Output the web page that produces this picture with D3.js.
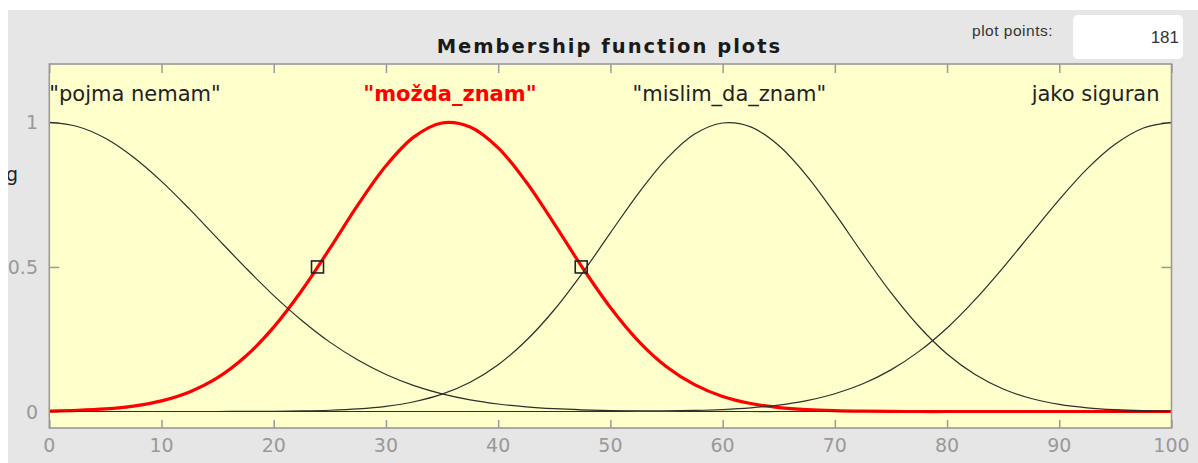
<!DOCTYPE html>
<html>
<head>
<meta charset="utf-8">
<script src="https://cdn.jsdelivr.net/npm/d3@7"></script>
<style>
  html, body { margin: 0; padding: 0; background: #ffffff; }
  svg { display: block; }
</style>
</head>
<body>
<svg id="chart" width="1198" height="463"></svg>
<script>
// ---- data ----
const xValues = [0, 2.5, 5, 7.5, 10, 12.5, 15, 17.5, 20, 22.5, 25, 27.5, 30, 32.5, 35, 37.5, 40, 42.5, 45, 47.5,
                 50, 52.5, 55, 57.5, 60, 62.5, 65, 67.5, 70, 72.5, 75, 77.5, 80, 82.5, 85, 87.5, 90, 92.5, 95, 97.5, 100];
const pojmaNemam = [1, 0.9858, 0.945, 0.8795, 0.796, 0.700, 0.598, 0.497, 0.401, 0.315, 0.240, 0.178, 0.128, 0.0897, 0.061, 0.0404, 0.026, 0.0162, 0.0098, 0.0058,
                    0.0033, 0.0019, 0.0010, 0.0005, 0.0003, 0, 0, 0, 0, 0, 0, 0, 0, 0, 0, 0, 0, 0, 0, 0, 0];
const mozdaZnam = [0.0017, 0.00404, 0.0090, 0.0188, 0.0368, 0.0678, 0.117, 0.191, 0.292, 0.4185, 0.564, 0.7145, 0.850, 0.950, 0.998, 0.984, 0.912, 0.7936, 0.649, 0.4985,
                   0.360, 0.2438, 0.155, 0.0929, 0.052, 0.0276, 0.0137, 0.0064, 0.0028, 0.0011, 0.0004, 0, 0, 0, 0, 0, 0, 0, 0, 0, 0];
const mislimDaZnam = [0, 0, 0, 0, 0, 0, 0.0001, 0.00035, 0.0009, 0.0020, 0.0044, 0.0091, 0.018, 0.0339, 0.060, 0.1015, 0.162, 0.2455, 0.352, 0.479,
                      0.618, 0.7548, 0.874, 0.9596, 0.998, 0.9846, 0.920, 0.8154, 0.685, 0.545, 0.411, 0.294, 0.199, 0.128, 0.078, 0.045, 0.0246, 0.0128, 0.0063, 0.0029, 0.0013];
const jakoSiguran = [0, 0, 0, 0, 0, 0, 0, 0, 0, 0, 0, 0, 0, 0, 0, 0, 0, 0, 0, 0.0002,
                     0.0004, 0.0009, 0.0019, 0.0037, 0.0070, 0.0128, 0.0224, 0.0379, 0.0614, 0.0959, 0.144, 0.208, 0.289, 0.387, 0.498, 0.616, 0.733, 0.840, 0.925, 0.9808, 1];

const seriesNames = ['"pojma nemam"', '"možda_znam"', '"mislim_da_znam"', 'jako siguran'];
const seriesPeaks = [0, 35.7, 60.6, 100];
const selectedIndex = 1;
const markerX = [23.9, 47.4];
const markerY = [0.5, 0.5];
const xTicks = [0, 10, 20, 30, 40, 50, 60, 70, 80, 90, 100];
const yTicks = [0, 0.5, 1];
const yTickLabels = ['0', '0.5', '1'];
const titleText = 'Membership function plots';
const plotPointsLabel = 'plot points:';
const plotPointsValue = '181';
const yLabelFragment = 'g';

// ---- layout ----
const svg = d3.select('#chart');
const W = 1198, H = 463;
const m = { left: 49.3, right: 1171.5, top: 64, bottom: 428 };

svg.append('rect').attr('x', 0).attr('y', 0).attr('width', W).attr('height', H).attr('fill', '#ffffff');
svg.append('rect').attr('x', 8).attr('y', 10).attr('width', W - 8).attr('height', H - 10).attr('fill', '#e6e6e6');

const x = d3.scaleLinear().domain([0, 100]).range([m.left, m.right]);
const y = d3.scaleLinear().domain([-0.057, 1.202]).range([m.bottom, m.top]);

// plot background
svg.append('rect')
  .attr('x', m.left).attr('y', m.top)
  .attr('width', m.right - m.left).attr('height', m.bottom - m.top)
  .attr('fill', '#ffffcc');

const defs = svg.append('defs');
defs.append('clipPath').attr('id', 'plotclip').append('rect')
  .attr('x', m.left).attr('y', m.top).attr('width', m.right - m.left).attr('height', m.bottom - m.top);
defs.append('clipPath').attr('id', 'panelclip').append('rect')
  .attr('x', 8).attr('y', 10).attr('width', W - 8).attr('height', H - 10);

// title
svg.append('text')
  .attr('x', (m.left + m.right) / 2 - 1).attr('y', 53)
  .attr('text-anchor', 'middle')
  .attr('font-family', 'DejaVu Sans')
  .attr('font-weight', 'bold')
  .attr('font-size', 19.5)
  .attr('letter-spacing', 2)
  .attr('fill', '#1a1a1a')
  .text(titleText);

// plot points box
svg.append('text')
  .attr('x', 1053).attr('y', 36)
  .attr('text-anchor', 'end')
  .attr('font-family', 'Liberation Sans, Arial, sans-serif')
  .attr('font-size', 15.5)
  .attr('letter-spacing', 0.5)
  .attr('fill', '#333')
  .text(plotPointsLabel);
svg.append('rect')
  .attr('x', 1073).attr('y', 15).attr('width', 110).attr('height', 44)
  .attr('rx', 5).attr('ry', 5)
  .attr('fill', '#ffffff');
svg.append('text')
  .attr('x', 1179).attr('y', 43)
  .attr('text-anchor', 'end')
  .attr('font-family', 'Liberation Sans, Arial, sans-serif')
  .attr('font-size', 17)
  .attr('fill', '#333')
  .text(plotPointsValue);

// y label fragment (cut off at panel edge)
svg.append('g').attr('clip-path', 'url(#panelclip)')
  .append('text')
  .attr('x', 18).attr('y', 181)
  .attr('text-anchor', 'end')
  .attr('font-family', 'DejaVu Sans')
  .attr('font-size', 19)
  .attr('fill', '#222')
  .text(yLabelFragment);

// ticks (inward, bottom/top/left/right)
const tickColor = '#9a9a9a';
const axisBottom = d3.axisBottom(x).tickValues(xTicks).tickSize(-8).tickFormat('');
const axisTop = d3.axisTop(x).tickValues(xTicks).tickSize(-9).tickFormat('');
const axisLeft = d3.axisLeft(y).tickValues(yTicks).tickSize(-10).tickFormat('');
const axisRight = d3.axisRight(y).tickValues(yTicks).tickSize(-10).tickFormat('');
function styleAxis(g) {
  g.select('.domain').remove();
  g.selectAll('line').attr('stroke', tickColor).attr('stroke-width', 1.5);
}
svg.append('g').attr('transform', `translate(0,${m.bottom})`).call(axisBottom).call(styleAxis);
svg.append('g').attr('transform', `translate(0,${m.top})`).call(axisTop).call(styleAxis);
svg.append('g').attr('transform', `translate(${m.left},0)`).call(axisLeft).call(styleAxis);
svg.append('g').attr('transform', `translate(${m.right},0)`).call(axisRight).call(styleAxis);

// tick labels
svg.append('g').selectAll('text').data(xTicks).join('text')
  .attr('x', d => x(d)).attr('y', 452)
  .attr('text-anchor', 'middle')
  .attr('font-family', 'DejaVu Sans')
  .attr('font-size', 19)
  .attr('fill', '#999')
  .text(d => d);
svg.append('g').attr('clip-path', 'url(#panelclip)').selectAll('text').data(yTicks).join('text')
  .attr('x', 38).attr('y', d => y(d) + 7)
  .attr('text-anchor', 'end')
  .attr('font-family', 'DejaVu Sans')
  .attr('font-size', 19)
  .attr('fill', '#999')
  .text((d, i) => yTickLabels[i]);

// curves
const allSeries = [pojmaNemam, mozdaZnam, mislimDaZnam, jakoSiguran];
const line = d3.line()
  .x((d, i) => x(xValues[i]))
  .y(d => y(d))
  .curve(d3.curveCatmullRom.alpha(0.5));
const curves = svg.append('g').attr('clip-path', 'url(#plotclip)');
// selected (red) first, black ones on top
curves.append('path')
  .attr('d', line(allSeries[selectedIndex]))
  .attr('fill', 'none')
  .attr('stroke', '#ff0000')
  .attr('stroke-width', 3.2)
  .attr('stroke-linejoin', 'round');
allSeries.forEach((s, i) => {
  if (i === selectedIndex) return;
  curves.append('path')
    .attr('d', line(s))
    .attr('fill', 'none')
    .attr('stroke', '#2e2e2e')
    .attr('stroke-width', 1.2);
});

// markers
curves.selectAll('rect.marker').data(markerX).join('rect')
  .attr('class', 'marker')
  .attr('x', d => x(d) - 6).attr('y', (d, i) => y(markerY[i]) - 6)
  .attr('width', 12).attr('height', 12)
  .attr('fill', 'none')
  .attr('stroke', '#222')
  .attr('stroke-width', 1.6);

// curve labels
seriesNames.forEach((name, i) => {
  let anchor = 'middle', px = x(seriesPeaks[i]);
  if (i === 0) { anchor = 'start'; px = x(0); }
  if (i === seriesNames.length - 1) { anchor = 'end'; px = x(100) - 12; }
  svg.append('text')
    .attr('x', px).attr('y', 101)
    .attr('text-anchor', anchor)
    .attr('font-family', 'DejaVu Sans')
    .attr('font-size', 21)
    .attr('font-weight', i === selectedIndex ? 'bold' : 'normal')
    .attr('fill', i === selectedIndex ? '#ff0000' : '#222')
    .text(name);
});

// frame
svg.append('rect')
  .attr('x', m.left).attr('y', m.top)
  .attr('width', m.right - m.left).attr('height', m.bottom - m.top)
  .attr('fill', 'none')
  .attr('stroke', '#999')
  .attr('stroke-width', 1.6);
</script>
</body>
</html>
